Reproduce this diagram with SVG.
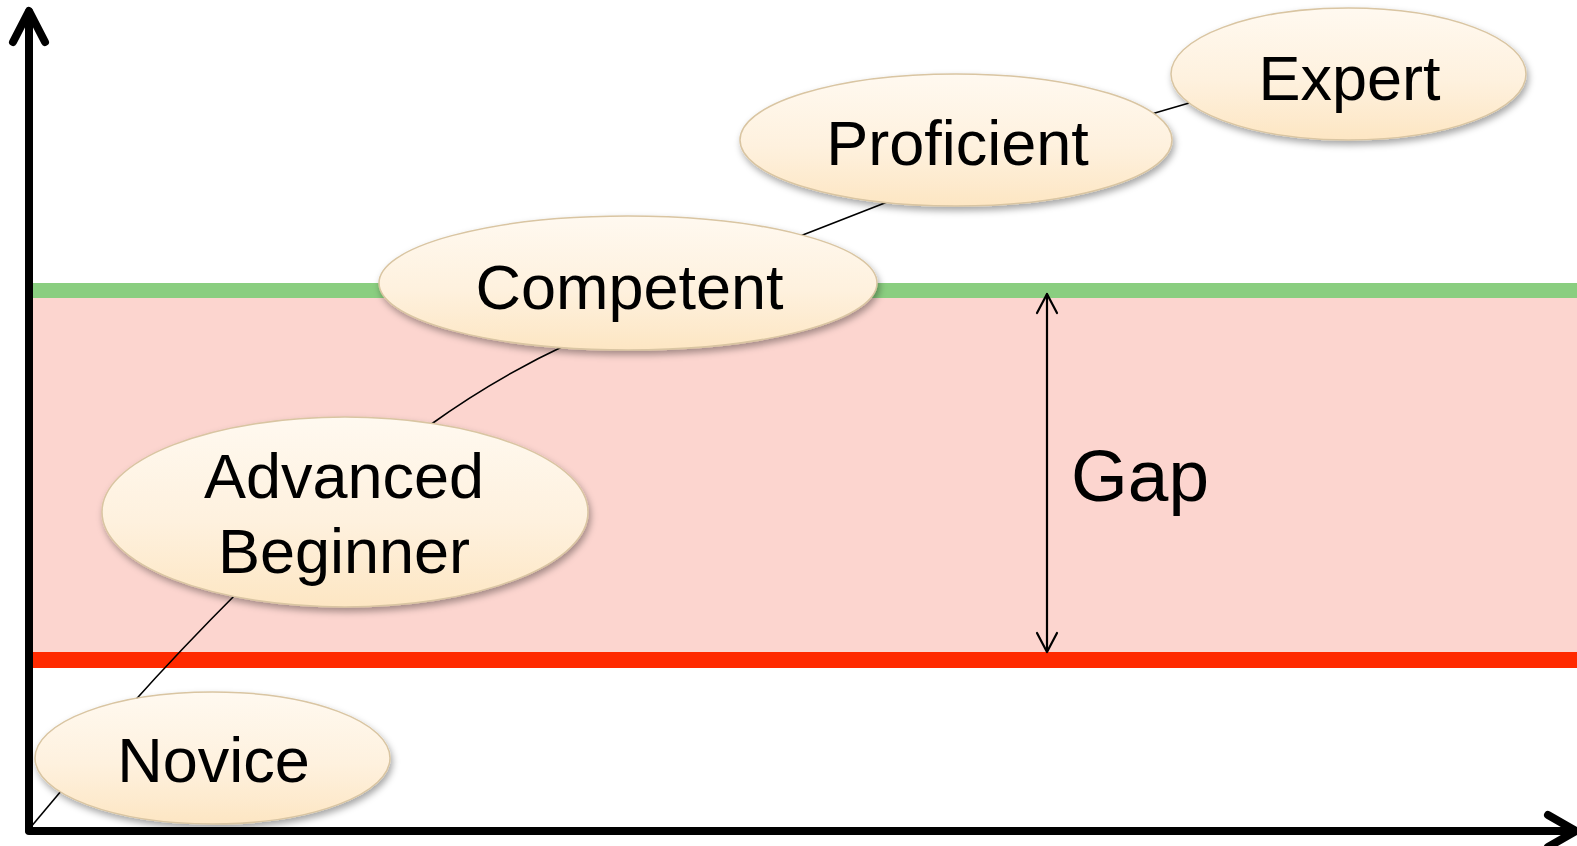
<svg xmlns="http://www.w3.org/2000/svg" width="1577" height="846" viewBox="0 0 1577 846">
  <style>
    .stage { fill: url(#stageFill); stroke: #D9C5A2; stroke-width: 1.5; filter: url(#softShadow); }
    .label { font-family: "Liberation Sans", Arial, sans-serif; font-size: 63px; fill: #000; text-anchor: middle; }
    .axis { fill: none; stroke: #000; stroke-width: 8; stroke-linecap: round; stroke-linejoin: round; }
    .link { fill: none; stroke: #000; stroke-width: 1.6; }
    .gap { fill: none; stroke: #000; stroke-width: 2.2; stroke-linecap: round; stroke-linejoin: round; }
  </style>
  <defs>
    <linearGradient id="stageFill" x1="0" y1="0" x2="0" y2="1">
      <stop offset="0" stop-color="#FFF9F0"/>
      <stop offset="0.55" stop-color="#FEF1DE"/>
      <stop offset="1" stop-color="#FDE6C3"/>
    </linearGradient>
    <filter id="softShadow" x="-10%" y="-20%" width="125%" height="150%">
      <feDropShadow dx="2" dy="4" stdDeviation="3.5" flood-color="#000" flood-opacity="0.35"/>
    </filter>
  </defs>

  <rect width="1577" height="846" fill="#FFFFFF"/>

  <!-- gap band between the two levels -->
  <g id="band">
    <rect x="33" y="298" width="1544" height="354" fill="#FCD5CF"/>
    <rect x="33" y="283" width="1544" height="15" fill="#8ACE80"/>
    <rect x="33" y="652" width="1544" height="16" fill="#FF2A00"/>
  </g>

  <!-- axes -->
  <g id="axes">
    <path class="axis" d="M29,830 V12"/>
    <path class="axis" d="M13,42 L29,11 L45,42"/>
    <path class="axis" d="M29,831 H1574"/>
    <path class="axis" d="M1548,815 L1576,831 L1548,847"/>
  </g>

  <!-- progression curve -->
  <g id="connectors">
    <path class="link" d="M30,828 L72,778"/>
    <path class="link" d="M130,706 Q180,650 240,590"/>
    <path class="link" d="M430,425 Q495,378 570,343"/>
    <path class="link" d="M795,238 L895,199"/>
    <path class="link" d="M1148,115 L1196,101"/>
  </g>

  <!-- gap measurement -->
  <g id="gap">
    <path class="gap" d="M1047,294 V651"/>
    <path class="gap" d="M1037,313 L1047,294 L1057,313"/>
    <path class="gap" d="M1037,633 L1047,652 L1057,633"/>
    <text x="1071" y="501" font-family="'Liberation Sans', Arial, sans-serif" font-size="73" fill="#000">Gap</text>
  </g>

  <g id="novice">
    <ellipse class="stage" cx="212.5" cy="758" rx="177.5" ry="66"/>
    <text class="label" x="213.5" y="782">Novice</text>
  </g>

  <g id="advanced-beginner">
    <ellipse class="stage" cx="345" cy="512" rx="243" ry="95"/>
    <text class="label" x="344" y="498">Advanced</text>
    <text class="label" x="344" y="573">Beginner</text>
  </g>

  <g id="competent">
    <ellipse class="stage" cx="628" cy="283" rx="249" ry="67"/>
    <text class="label" x="629.5" y="309">Competent</text>
  </g>

  <g id="proficient">
    <ellipse class="stage" cx="956" cy="140" rx="216" ry="66"/>
    <text class="label" x="957.5" y="165">Proficient</text>
  </g>

  <g id="expert">
    <ellipse class="stage" cx="1348.5" cy="74" rx="177.5" ry="66"/>
    <text class="label" x="1349.5" y="100">Expert</text>
  </g>
</svg>
